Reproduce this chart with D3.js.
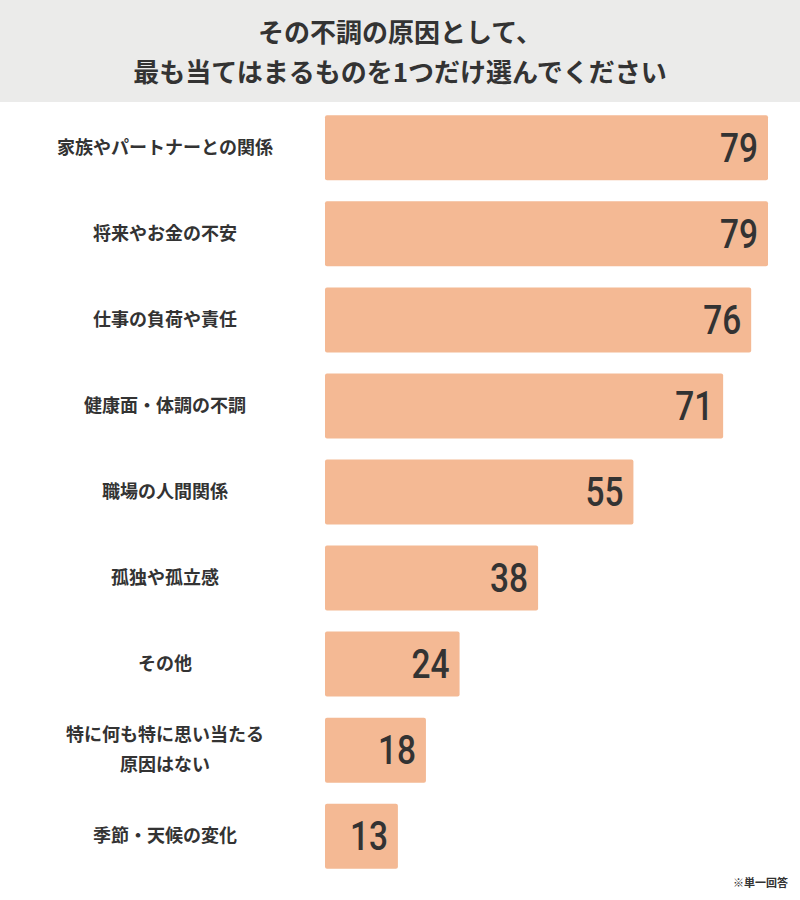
<!DOCTYPE html>
<html><head><meta charset="utf-8">
<script src="https://cdn.jsdelivr.net/npm/d3@7"></script>
<style>body{margin:0;background:#fff}</style>
</head><body>
<svg id="c" width="800" height="900"></svg>
<script>
const categories = ["家族やパートナーとの関係","将来やお金の不安","仕事の負荷や責任","健康面・体調の不調","職場の人間関係","孤独や孤立感","その他","特に何も特に思い当たる\n原因はない","季節・天候の変化"];
const values = [79,79,76,71,55,38,24,18,13];
const titleLines = ["その不調の原因として、","最も当てはまるものを1つだけ選んでください"];
const note = "※単一回答";

const svg = d3.select("#c");
const font = "'Noto Sans CJK JP', sans-serif";
svg.append("rect").attr("x",0).attr("y",0).attr("width",800).attr("height",102).attr("fill","#ebebea");
svg.selectAll(".t").data(titleLines).join("text")
  .attr("x",400).attr("y",(d,i)=>42+i*40).attr("text-anchor","middle")
  .attr("font-family",font).attr("font-weight","bold").attr("font-size",26).attr("fill","#333").text(d=>d);

const x = d3.scaleLinear().domain([0,79]).range([325,768]);
const y = d3.scaleBand().domain(categories).range([105,879]).paddingInner(0.245).paddingOuter(0.12);

const g = svg.append("g");
g.selectAll("rect.b").data(values).join("rect")
  .attr("x",x(0)).attr("y",(d,i)=>y(categories[i]))
  .attr("width",d=>x(d)-x(0)).attr("height",y.bandwidth())
  .attr("rx",2).attr("fill","#f4b994");
g.selectAll("text.v").data(values).join("text")
  .attr("x",d=>x(d)-10).attr("y",(d,i)=>y(categories[i])+y.bandwidth()/2+14)
  .attr("text-anchor","end").attr("font-family","Roboto, sans-serif").attr("font-weight","500")
  .attr("font-size",40).attr("fill","#333").attr("textLength",d=>String(d).length*19).attr("lengthAdjust","spacingAndGlyphs")
  .text(d=>d);
categories.forEach((c,i)=>{
  const lines=c.split("\n");
  const cy=y(c)+y.bandwidth()/2;
  lines.forEach((l,j)=>{
    svg.append("text").attr("x",165).attr("y",cy+6+(j-(lines.length-1)/2)*30)
      .attr("text-anchor","middle").attr("font-family",font).attr("font-weight","bold")
      .attr("font-size",18).attr("fill","#333").text(l);
  });
});
svg.append("text").attr("x",788).attr("y",887).attr("text-anchor","end")
  .attr("font-family",font).attr("font-weight","bold").attr("font-size",11).attr("fill","#333").text(note);
</script>
</body></html>
